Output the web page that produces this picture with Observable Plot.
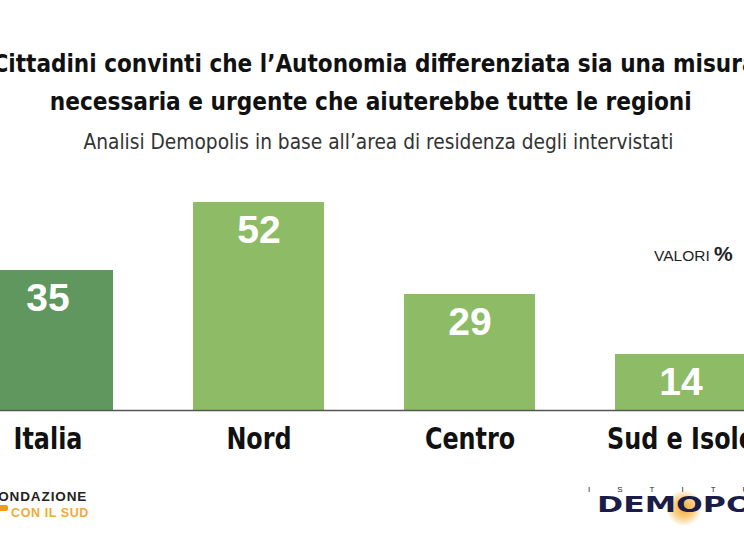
<!DOCTYPE html>
<html>
<head>
<meta charset="utf-8">
<script src="https://cdn.jsdelivr.net/npm/d3@7"></script>
<script src="https://cdn.jsdelivr.net/npm/@observablehq/plot@0.6"></script>
<style>
  html, body { margin: 0; padding: 0; background: #fff; }
  body { width: 744px; height: 558px; overflow: hidden; position: relative; font-family: "Liberation Sans", Arial, sans-serif; }
  .abs { position: absolute; white-space: nowrap; }
  .ctr { transform-origin: center; }
  .title { font-family: "Liberation Sans Narrow", "DejaVu Sans Condensed", "Liberation Sans", sans-serif; font-stretch: condensed; font-weight: bold; font-size: 25px; color: #111; line-height: 1; }
  .sub { font-family: "Liberation Sans Narrow", "DejaVu Sans Condensed", "Liberation Sans", sans-serif; font-stretch: condensed; font-weight: normal; font-size: 21px; color: #333; line-height: 1; }
  #chart { position: absolute; left: 0; top: 180px; }
  #chart svg { overflow: visible; }
</style>
</head>
<body>
<div class="abs ctr title" data-w="764" data-c="374" style="top:51px">Cittadini convinti che l’Autonomia differenziata sia una misura</div>
<div class="abs ctr title" data-w="642" data-c="371" style="top:89px">necessaria e urgente che aiuterebbe tutte le regioni</div>
<div class="abs ctr sub" data-w="590" data-c="378" style="top:132px">Analisi Demopolis in base all’area di residenza degli intervistati</div>
<div class="abs" style="left:654px; top:244px; font-size:15.5px; color:#222; line-height:20px;">VALORI <b style="font-size:21px;">%</b></div>
<div id="chart"></div>

<div class="abs" style="left:-11px; top:489px; font-weight:bold; font-size:13.5px; letter-spacing:0.9px; color:#222; line-height:15px;">FONDAZIONE</div>
<div class="abs" style="left:-2px; top:505px; width:10px; height:6px; background:#f09a1e; border-radius:2px;"></div>
<div class="abs" style="left:11px; top:506px; font-weight:bold; font-size:12.5px; letter-spacing:0.6px; color:#f3a934; line-height:14px;">CON IL SUD</div>

<div class="abs" style="left:588px; top:485px; font-size:8px; color:#222; line-height:10px; letter-spacing:27px;">ISTITUTO</div>
<div class="abs" style="left:666px; top:490px; width:36px; height:36px; border-radius:50%; background: radial-gradient(circle, rgba(245,165,35,0.95) 0%, rgba(245,170,40,0.55) 40%, rgba(245,170,40,0) 72%);"></div>
<div class="abs" style="left:597px; top:494px; font-family:'DejaVu Sans', sans-serif; font-weight:900; font-size:21px; color:#1b1d48; line-height:22px; transform-origin:left center; transform:scaleX(1.5);">DEMOPOLIS</div>

<script>
const areas = ["Italia", "Nord", "Centro", "Sud e Isole"];
const values = [35, 52, 29, 14];
const colors = ["#5f975f", "#8ebb66", "#8ebb66", "#8ebb66"];
const data = areas.map((a, i) => ({area: a, value: values[i], color: colors[i]}));

const chart = Plot.plot({
  width: 744,
  height: 290,
  marginTop: 0, marginBottom: 0, marginLeft: 0, marginRight: 0,
  x: {type: "band", domain: areas, range: [-19, 746], paddingInner: 0.38, paddingOuter: 0, axis: null},
  y: {domain: [0, 55], range: [230, 10], axis: null},
  color: {type: "identity"},
  marks: [
    Plot.barY(data, {x: "area", y: "value", fill: "color"}),
    Plot.ruleY([0], {stroke: "#555", strokeWidth: 1.5}),
    Plot.text(data, {x: "area", y: "value", text: d => String(d.value), dy: 28, fill: "white", fontSize: 39, fontWeight: "bold", fontFamily: "Liberation Sans, Arial, sans-serif"}),
    Plot.text(data, {x: "area", y: () => 0, text: "area", dy: 29, fill: "#111", fontSize: 31, fontWeight: "bold", fontFamily: "DejaVu Sans, sans-serif"})
  ]
});
const textGroups = chart.querySelectorAll('g[aria-label="text"]');
if (textGroups.length) {
  textGroups[textGroups.length - 1].querySelectorAll("text").forEach(t => {
    const tr = t.getAttribute("transform") || "";
    t.setAttribute("transform", tr + " scale(0.77,1)");
  });
}
document.getElementById("chart").appendChild(chart);

document.querySelectorAll(".ctr").forEach(el => {
  const w = el.getBoundingClientRect().width;
  const target = +el.dataset.w;
  const c = +el.dataset.c;
  el.style.left = (c - w / 2) + "px";
  el.style.transform = `scaleX(${target / w})`;
});
</script>
</body>
</html>
